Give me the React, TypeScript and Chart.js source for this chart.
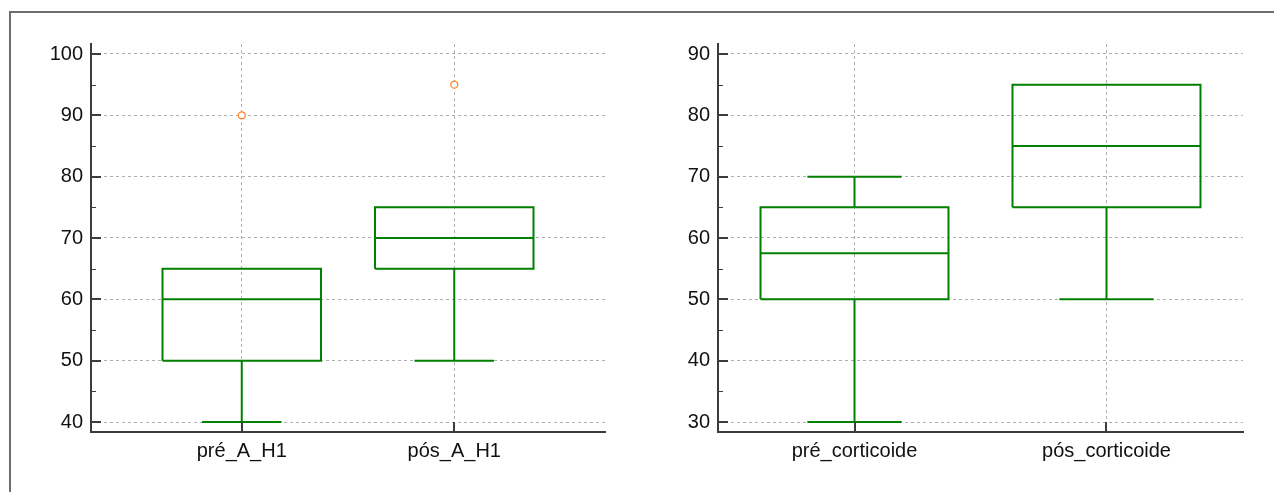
import React, { useEffect, useRef } from 'react';
import { Chart, registerables } from 'chart.js';

Chart.register(...registerables);

// ---------- data ----------
const leftCategories = ['pré_A_H1', 'pós_A_H1'];
const leftMin = [40, 50];
const leftQ1 = [50, 65];
const leftMedian = [60, 70];
const leftQ3 = [65, 75];
const leftMax = [65, 75];
const leftOutliers = [[90], [95]];
const leftYTicks = [40, 50, 60, 70, 80, 90, 100];

const rightCategories = ['pré_corticoide', 'pós_corticoide'];
const rightMin = [30, 50];
const rightQ1 = [50, 65];
const rightMedian = [57.5, 75];
const rightQ3 = [65, 85];
const rightMax = [70, 85];
const rightOutliers: number[][] = [[], []];
const rightYTicks = [30, 40, 50, 60, 70, 80, 90];

// ---------- styles ----------
const GREEN = '#008000';
const ORANGE = '#ff7f27';
const AXIS = '#3c3c3c';
const GRID = '#b0b0b0';
const FONT = "'Liberation Sans', Arial, sans-serif";
const BOX_HALF = 0.373;
const CAP_HALF = 0.187;

interface PanelSpec {
  categories: string[];
  min: number[];
  q1: number[];
  median: number[];
  q3: number[];
  max: number[];
  outliers: number[][];
  yTicks: number[];
  yMin: number;
  yMax: number;
  xMin: number;
  xMax: number;
  yAxisWidth: number;
  padRight: number;
}

function seg(points: { x: number; y: number }[]) {
  return {
    type: 'scatter' as const,
    data: points,
    showLine: true,
    pointRadius: 0,
    borderColor: GREEN,
    borderWidth: 2,
    borderCapStyle: 'butt' as const,
    borderJoinStyle: 'miter' as const,
    fill: false,
  };
}

function buildDatasets(p: PanelSpec) {
  const ds: any[] = [];
  p.categories.forEach((_, i) => {
    // box
    ds.push(
      seg([
        { x: i - BOX_HALF, y: p.q1[i] },
        { x: i + BOX_HALF, y: p.q1[i] },
        { x: i + BOX_HALF, y: p.q3[i] },
        { x: i - BOX_HALF, y: p.q3[i] },
        { x: i - BOX_HALF, y: p.q1[i] },
      ])
    );
    // median
    ds.push(seg([{ x: i - BOX_HALF, y: p.median[i] }, { x: i + BOX_HALF, y: p.median[i] }]));
    // lower whisker
    if (p.min[i] < p.q1[i]) {
      ds.push(seg([{ x: i, y: p.q1[i] }, { x: i, y: p.min[i] }]));
      ds.push(seg([{ x: i - CAP_HALF, y: p.min[i] }, { x: i + CAP_HALF, y: p.min[i] }]));
    }
    // upper whisker
    if (p.max[i] > p.q3[i]) {
      ds.push(seg([{ x: i, y: p.q3[i] }, { x: i, y: p.max[i] }]));
      ds.push(seg([{ x: i - CAP_HALF, y: p.max[i] }, { x: i + CAP_HALF, y: p.max[i] }]));
    }
  });
  const out: { x: number; y: number }[] = [];
  p.outliers.forEach((arr, i) => arr.forEach((v) => out.push({ x: i, y: v })));
  if (out.length) {
    ds.push({
      type: 'scatter',
      data: out,
      showLine: false,
      pointRadius: 3.5,
      pointStyle: 'circle',
      pointBorderColor: ORANGE,
      pointBackgroundColor: '#ffffff',
      pointBorderWidth: 1.3,
    });
  }
  return ds;
}

const tickMarksPlugin = {
  id: 'tickMarks',
  afterDraw(chart: any, _args: any, opts: any) {
    const ctx = chart.ctx;
    const y = chart.scales.y;
    const x = chart.scales.x;
    const area = chart.chartArea;
    const majors: number[] = opts.yTicks;
    ctx.save();
    ctx.strokeStyle = AXIS;
    // major y ticks
    ctx.lineWidth = 2;
    majors.forEach((v) => {
      const py = Math.round(y.getPixelForValue(v));
      ctx.beginPath();
      ctx.moveTo(area.left, py);
      ctx.lineTo(area.left + 10, py);
      ctx.stroke();
    });
    // minor y ticks
    ctx.lineWidth = 1;
    for (let k = 0; k < majors.length - 1; k++) {
      const v = (majors[k] + majors[k + 1]) / 2;
      const py = Math.round(y.getPixelForValue(v)) + 0.5;
      ctx.beginPath();
      ctx.moveTo(area.left, py);
      ctx.lineTo(area.left + 5, py);
      ctx.stroke();
    }
    // x ticks
    ctx.lineWidth = 2;
    (opts.categories as string[]).forEach((_, i) => {
      const px = Math.round(x.getPixelForValue(i));
      ctx.beginPath();
      ctx.moveTo(px, area.bottom);
      ctx.lineTo(px, area.bottom - 10);
      ctx.stroke();
    });
    ctx.restore();
  },
};

function Panel({ spec, left, width }: { spec: PanelSpec; left: number; width: number }) {
  const ref = useRef<HTMLCanvasElement>(null);
  useEffect(() => {
    if (!ref.current) return;
    const chart = new Chart(ref.current, {
      type: 'scatter',
      data: { datasets: buildDatasets(spec) },
      options: {
        responsive: false,
        animation: false,
        devicePixelRatio: 1,
        layout: { padding: { left: 0, top: 44, right: spec.padRight, bottom: 0 } },
        plugins: {
          legend: { display: false },
          tooltip: { enabled: false },
          tickMarks: { yTicks: spec.yTicks, categories: spec.categories },
        } as any,
        scales: {
          x: {
            type: 'linear',
            min: spec.xMin,
            max: spec.xMax,
            afterBuildTicks: (scale: any) => {
              scale.ticks = spec.categories.map((_, i) => ({ value: i }));
            },
            afterFit: (scale: any) => {
              scale.height = 60;
            },
            ticks: {
              autoSkip: false,
              maxRotation: 0,
              padding: 7,
              color: '#111',
              font: { family: FONT, size: 20 },
              callback: (v: any) => spec.categories[v] ?? '',
            },
            grid: { color: GRID, lineWidth: 1, drawTicks: false },
            border: { display: true, color: AXIS, width: 2, dash: [3, 3] },
          },
          y: {
            type: 'linear',
            min: spec.yMin,
            max: spec.yMax,
            afterBuildTicks: (scale: any) => {
              scale.ticks = spec.yTicks.map((v) => ({ value: v }));
            },
            afterFit: (scale: any) => {
              scale.width = spec.yAxisWidth;
            },
            ticks: {
              padding: 8,
              color: '#111',
              font: { family: FONT, size: 20 },
            },
            grid: { color: GRID, lineWidth: 1, drawTicks: false },
            border: { display: true, color: AXIS, width: 2, dash: [3, 3] },
          },
        },
      } as any,
      plugins: [tickMarksPlugin],
    });
    return () => chart.destroy();
  }, []);
  return (
    <div style={{ position: 'absolute', left, top: 0, width, height: 492 }}>
      <canvas ref={ref} width={width} height={492} style={{ width, height: 492, display: 'block' }} />
    </div>
  );
}

const leftSpec: PanelSpec = {
  categories: leftCategories,
  min: leftMin,
  q1: leftQ1,
  median: leftMedian,
  q3: leftQ3,
  max: leftMax,
  outliers: leftOutliers,
  yTicks: leftYTicks,
  yMin: 38.37,
  yMax: 101.63,
  xMin: -0.7095,
  xMax: 1.7095,
  yAxisWidth: 91,
  padRight: 35,
};

const rightSpec: PanelSpec = {
  categories: rightCategories,
  min: rightMin,
  q1: rightQ1,
  median: rightMedian,
  q3: rightQ3,
  max: rightMax,
  outliers: rightOutliers,
  yTicks: rightYTicks,
  yMin: 28.37,
  yMax: 91.63,
  xMin: -0.5417,
  xMax: 1.5417,
  yAxisWidth: 78,
  padRight: 31,
};

export default function App() {
  return (
    <div
      style={{
        position: 'absolute',
        left: 0,
        top: 0,
        width: 1274,
        height: 492,
        overflow: 'hidden',
        background: '#fff',
      }}
    >
      <div
        style={{
          position: 'absolute',
          left: 9,
          top: 11,
          width: 1400,
          height: 600,
          borderTop: '2px solid #6e6e6e',
          borderLeft: '2px solid #6e6e6e',
        }}
      />
      <Panel spec={leftSpec} left={0} width={640} />
      <Panel spec={rightSpec} left={640} width={634} />
    </div>
  );
}
